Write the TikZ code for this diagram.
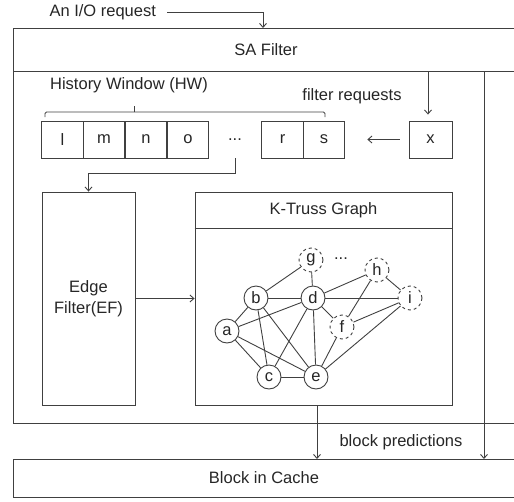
\documentclass[tikz,border=0pt]{standalone}
\usepackage{fontspec}
\setmainfont{Liberation Sans}
\usetikzlibrary{arrows.meta}
\begin{document}
\begin{tikzpicture}[x=1pt,y=-1pt,
  every node/.style={font=\fontsize{16.5}{21}\selectfont, text=black!85},
  ln/.style={draw=black!75, line width=0.9pt},
  arr/.style={ln, -{Straight Barb[length=4pt,width=7pt]}},
  cell/.style={ln, minimum width=41.75pt, minimum height=37pt, inner sep=0pt},
  vtx/.style={ln, circle, minimum size=24pt, inner sep=0pt, fill=white},
  hid/.style={vtx, dashed},
]
\useasboundingbox (0,0) rectangle (514,501);

% outer SA filter frame (runs off the right edge)
\draw[ln] (514,28) -| (13,423) -- (514,423);
\draw[ln] (13,71) -- (514,71);
\node (sa) at (266,50) {SA Filter};
\coordinate (satop) at (263,28);

% incoming request
\node[anchor=west] (io) at (46,12) {An I/O request};
\draw[arr] ([xshift=8pt]io.east) -| (satop);

% history window
\node (hw) at (129,85) {History Window (HW)};
\draw[ln, rounded corners=1.5pt] (45,117) -- (45,112) -- (325,112) -- (325,117);
\draw[ln] (134,112) -- (134,106);

\node[cell] (l) at (62.5,139.5) {l};
\node[cell] (m) at (104,139.5) {m};
\node[cell] (n) at (146,139.5) {n};
\node[cell] (o) at (188,139.5) {o};
\node[cell, draw=none] (dots) at (235,139.5) {...};
\node[cell] (r) at (282.5,139.5) {r};
\node[cell] (s) at (324,139.5) {s};
\node[cell, minimum width=43pt] (x) at (430.5,139.5) {x};
\draw[arr, shorten <=9pt, shorten >=22pt] (x.west) -- (s.east);

% filter requests
\node (fr) at (352,96) {filter requests};
\coordinate (frtop) at (428,71);
\draw[arr, shorten >=6pt] (frtop) -- (frtop |- x.north);

% edge filter
\node[ln, minimum width=93pt, minimum height=213pt, align=center] (ef) at (88.5,298.5) {Edge\\Filter(EF)};
\draw[arr] (dots.south) -- ++(0,15) -| (ef.north);

% k-truss graph box
\node[ln, minimum width=257pt, minimum height=213pt] (kt) at (323.5,298.5) {};
\draw[ln] (kt.north west) ++(0,37) -- ++(257,0);
\node (ktt) at (323.5,210.5) {K-Truss Graph};
\draw[arr] (ef.east) -- (kt.west);

% graph vertices
\node[hid] (g) at (311,260) {g};
\node[hid] (h) at (377,270) {h};
\node[hid] (i) at (410,298) {i};
\node[vtx] (b) at (256,298) {b};
\node[vtx] (d) at (313,298) {d};
\node[vtx] (a) at (227,331) {a};
\node[hid] (f) at (342,327) {f};
\node[vtx] (c) at (269,377) {c};
\node[vtx] (e) at (316,377) {e};
\node (gd) at (341,259) {...};

% graph edges
\foreach \u/\v in {g/b, g/d, b/d, b/a, b/c, b/e, a/d, a/e, a/c, d/c, d/e, d/f,
                   d/h, d/i, h/i, h/f, f/i, f/e, i/e, c/e}
  \draw[ln] (\u) -- (\v);

% block in cache
\draw[ln] (514,459) -| (13,497) -- (514,497);
\node (bic) at (264,478) {Block in Cache};
\coordinate (bictop) at (0,459);
\coordinate (bp) at (317,405);
\draw[arr] (bp) -- (bp |- bictop);
\node (bpl) at (401,442) {block predictions};
\coordinate (rt) at (484,71);
\draw[arr] (rt) -- (rt |- bictop);
\end{tikzpicture}
\end{document}
